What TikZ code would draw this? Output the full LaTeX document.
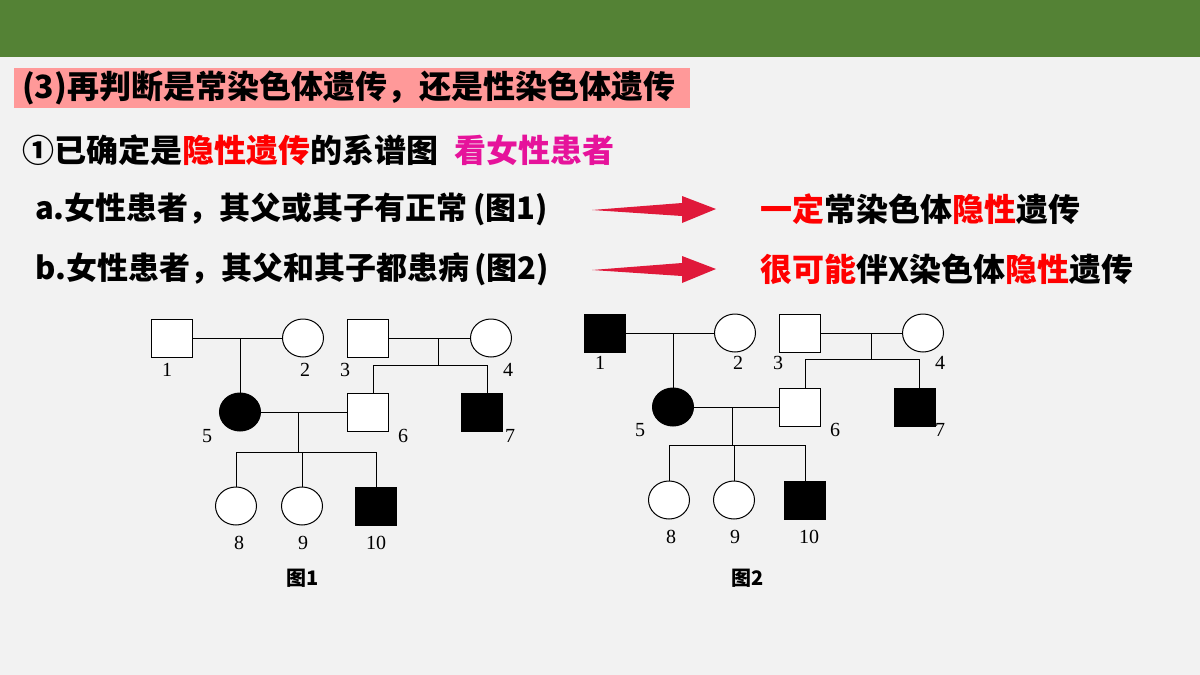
\documentclass[tikz,border=0pt]{standalone}
\usepackage{fontspec}
\setmainfont{Liberation Serif}
\newfontfamily\cjk{Noto Sans CJK SC}
\usetikzlibrary{shapes.geometric}
\definecolor{bg}{HTML}{F2F2F2}
\definecolor{topbar}{HTML}{548235}
\definecolor{pinkbox}{HTML}{FF9999}
\definecolor{myred}{HTML}{FF0000}
\definecolor{mymag}{HTML}{E6139B}
\definecolor{arrowred}{HTML}{E0193A}
\begin{document}
\begin{tikzpicture}[x=1pt,y=-1pt,
  male/.style={draw,line width=1pt,minimum width=41pt,minimum height=38pt,inner sep=0pt,fill=white},
  female/.style={draw,ellipse,line width=1pt,minimum width=41pt,minimum height=38pt,inner sep=0pt,fill=white},
  aff/.style={fill=black},
  lab/.style={font=\fontsize{20}{20}\selectfont},
  ln/.style={line width=1pt},
  txt/.style={anchor=west,inner sep=0pt,font=\cjk\bfseries\fontsize{31}{31}\selectfont}]
\fill[bg] (0,0) rectangle (1200,675);
\useasboundingbox (0,0) rectangle (1200,675);
\fill[topbar] (0,0) rectangle (1200,57);
\fill[pinkbox] (14,68) rectangle (690,108);
\node[txt,font=\cjk\bfseries\fontsize{32}{32}\selectfont] (title) at (22,88) {(3)再判断是常染色体遗传，还是性染色体遗传};
\node[txt,font=\cjk\bfseries\fontsize{32}{32}\selectfont] (l2) at (22,150) {①已确定是\textcolor{myred}{隐性遗传}的系谱图\hspace{16pt}\textcolor{mymag}{看女性患者}};
\node[txt] (la) at (35,209) {a.女性患者，其父或其子有正常\,(图1)};
\node[txt] (lb) at (35,269) {b.女性患者，其父和其子都患病\,(图2)};
\node[txt,font=\cjk\bfseries\fontsize{32}{32}\selectfont] (ra) at (760,209) {\textcolor{myred}{一定}常染色体\textcolor{myred}{隐性}遗传};
\node[txt,font=\cjk\bfseries\fontsize{32}{32}\selectfont] (rb) at (760,269) {\textcolor{myred}{很可能}伴X染色体\textcolor{myred}{隐性}遗传};
\foreach \yy in {209,269}{
\fill[arrowred] (592,\yy+1) -- (682,\yy-6) -- (682,\yy-13) -- (716,\yy) -- (682,\yy+14) -- (682,\yy+7) -- cycle;}
% Pedigree 1
\node[male] (a1) at (172,338) {};
\node[female] (a2) at (303,338) {};
\node[male] (a3) at (368,338) {};
\node[female] (a4) at (491,338) {};
\node[female,aff] (a5) at (240,412) {};
\node[male] (a6) at (368,412) {};
\node[male,aff] (a7) at (482,412) {};
\node[female] (a8) at (236,506) {};
\node[female] (a9) at (302,506) {};
\node[male,aff] (a10) at (376,506) {};
\draw[ln] (a1.east) -- (a2.west);
\draw[ln] (240,338) -- (a5.north);
\draw[ln] (a3.east) -- (a4.west);
\draw[ln] (438,338) -- (438,365);
\draw[ln] (373,393) -- (373,365) -- (487,365) -- (487,393);
\draw[ln] (a5.east) -- (a6.west);
\draw[ln] (298,412) -- (298,452);
\draw[ln] (a8.north) -- (236,452) -- (376,452) -- (a10.north);
\draw[ln] (302,452) -- (a9.north);
\foreach \t/\x/\y in {1/167/370,2/305/370,3/345/370,4/508/370,5/207/436,6/403/436,7/510/436,8/239/543,9/303/543,10/376/543}
  \node[lab] (la\t) at (\x,\y) {\t};
\node[font=\cjk\bfseries\fontsize{20}{20}\selectfont] (cap1) at (303,578) {图1};
% Pedigree 2
\node[male,aff] (b1) at (605,333) {};
\node[female] (b2) at (735,333) {};
\node[male] (b3) at (800,333) {};
\node[female] (b4) at (923,333) {};
\node[female,aff] (b5) at (673,407) {};
\node[male] (b6) at (800,407) {};
\node[male,aff] (b7) at (915,407) {};
\node[female] (b8) at (669,500) {};
\node[female] (b9) at (734,500) {};
\node[male,aff] (b10) at (805,500) {};
\draw[ln] (b1.east) -- (b2.west);
\draw[ln] (673,333) -- (b5.north);
\draw[ln] (b3.east) -- (b4.west);
\draw[ln] (871,333) -- (871,359);
\draw[ln] (805,388) -- (805,359) -- (919,359) -- (919,388);
\draw[ln] (b5.east) -- (b6.west);
\draw[ln] (732,407) -- (732,445);
\draw[ln] (b8.north) -- (669,445) -- (805,445) -- (b10.north);
\draw[ln] (734,445) -- (b9.north);
\foreach \t/\x/\y in {1/600/363,2/738/363,3/778/363,4/940/363,5/640/430,6/835/430,7/940/430,8/671/537,9/735/537,10/809/537}
  \node[lab] (lb\t) at (\x,\y) {\t};
\node[font=\cjk\bfseries\fontsize{20}{20}\selectfont] (cap2) at (748,578) {图2};
\end{tikzpicture}
\end{document}
